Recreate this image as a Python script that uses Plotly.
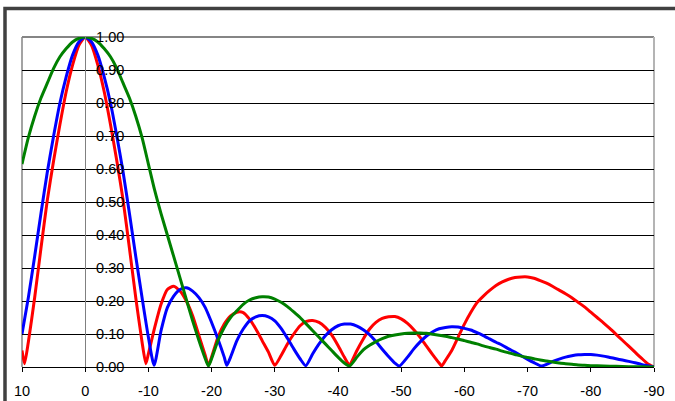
import plotly.graph_objects as go

# Normalised array-factor patterns versus angle (degrees)
angle_red = [10, 9.6, 9, 8, 7, 6, 5, 4, 3, 2, 1, 0, -1, -2, -3, -4, -5, -6, -7, -8, -9, -9.6,
             -10, -11, -12, -13, -14, -15, -16, -17, -18, -19, -19.5, -20, -21, -22, -23, -24,
             -25, -26, -27, -28, -29, -30, -31, -32, -33, -34, -35, -36, -37, -38, -39, -40,
             -41, -41.8, -42, -43, -44, -45, -46, -47, -48, -49, -50, -51, -52, -53, -54, -55,
             -56, -56.4, -57, -58, -59, -60, -61, -62, -63, -64, -65, -66, -67, -68, -69, -70,
             -71, -72, -73, -74, -75, -76, -77, -78, -79, -80, -81, -82, -83, -84, -85, -86,
             -87, -88, -89, -90]
af_red = [0.05, 0.01, 0.075, 0.21, 0.36, 0.505, 0.625, 0.735, 0.835, 0.915, 0.975, 1.00, 0.975,
          0.915, 0.835, 0.735, 0.625, 0.505, 0.36, 0.21, 0.075, 0.01,
          0.04, 0.12, 0.19, 0.235, 0.245, 0.23, 0.20, 0.155, 0.095, 0.035, 0.005, 0.03, 0.09,
          0.13, 0.155, 0.166, 0.165, 0.145, 0.115, 0.08, 0.045, 0.005, 0.035, 0.07, 0.10,
          0.125, 0.138, 0.141, 0.135, 0.12, 0.097, 0.065, 0.03, 0.005, 0.01, 0.05, 0.085,
          0.115, 0.135, 0.147, 0.152, 0.153, 0.146, 0.132, 0.113, 0.09, 0.063, 0.037, 0.012,
          0.003, 0.02, 0.05, 0.09, 0.13, 0.165, 0.195, 0.215, 0.232, 0.247, 0.258, 0.266,
          0.271, 0.273, 0.273, 0.269, 0.262, 0.254, 0.244, 0.233, 0.222, 0.21, 0.196, 0.182,
          0.166, 0.15, 0.134, 0.117, 0.099, 0.081, 0.063, 0.045, 0.027, 0.01, 0.0]

angle_blue = [10, 9, 8, 7, 6, 5, 4, 3, 2, 1, 0, -1, -2, -3, -4, -5, -6, -7, -8, -9, -10, -10.9,
              -12, -13, -14, -15, -16, -17, -18, -19, -20, -21, -22, -22.4, -23, -24, -25, -26,
              -27, -28, -29, -30, -31, -32, -33, -34, -34.9, -36, -37, -38, -39, -40, -41, -42,
              -43, -44, -45, -46, -47, -48, -49, -49.7, -51, -52, -53, -54, -55, -56, -57, -58,
              -59, -60, -61, -62, -63, -64, -65, -66, -67, -68, -69, -70, -71, -72.2, -73, -74,
              -75, -76, -77, -78, -79, -80, -81, -82, -83, -84, -85, -86, -87, -88, -89, -90]
af_blue = [0.10, 0.21, 0.335, 0.465, 0.59, 0.70, 0.80, 0.88, 0.945, 0.985, 1.00, 0.985, 0.945,
           0.88, 0.80, 0.70, 0.59, 0.465, 0.335, 0.21, 0.09, 0.005,
           0.11, 0.18, 0.215, 0.235, 0.24, 0.23, 0.21, 0.18, 0.135, 0.085, 0.03, 0.005, 0.03,
           0.08, 0.115, 0.14, 0.152, 0.156, 0.152, 0.14, 0.117, 0.087, 0.055, 0.025, 0.004,
           0.04, 0.07, 0.095, 0.113, 0.125, 0.13, 0.13, 0.124, 0.113, 0.098, 0.077, 0.054,
           0.032, 0.012, 0.003, 0.03, 0.055, 0.076, 0.094, 0.107, 0.116, 0.12, 0.122, 0.121,
           0.117, 0.112, 0.104, 0.095, 0.085, 0.075, 0.066, 0.055, 0.045, 0.034, 0.023, 0.013,
           0.003, 0.008, 0.017, 0.024, 0.03, 0.034, 0.037, 0.038, 0.038, 0.036, 0.033, 0.029,
           0.025, 0.021, 0.017, 0.013, 0.008, 0.004, 0.0]

angle_green = [10, 9, 8, 7, 6, 5, 4, 3, 2, 1, 0, -1, -2, -3, -4, -5, -6, -7, -8, -9, -10, -11,
               -12, -13, -14, -15, -16, -17, -18, -19, -19.5, -20, -21, -22, -23, -24, -25, -26,
               -27, -28, -29, -30, -31, -32, -33, -34, -35, -36, -37, -38, -39, -40, -41, -41.8,
               -43, -44, -45, -46, -47, -48, -49, -50, -51, -52, -53, -54, -55, -56, -57, -58,
               -59, -60, -61, -62, -63, -64, -65, -66, -67, -68, -69, -70, -71, -72, -73, -74,
               -75, -76, -77, -78, -79, -80, -82, -84, -86, -88, -90]
af_green = [0.615, 0.695, 0.76, 0.815, 0.86, 0.905, 0.94, 0.965, 0.985, 0.996, 1.00, 0.996,
            0.985, 0.965, 0.94, 0.905, 0.86, 0.815, 0.76, 0.695, 0.615, 0.535,
            0.465, 0.40, 0.335, 0.27, 0.205, 0.14, 0.08, 0.025, 0.003, 0.025, 0.08, 0.12, 0.15,
            0.17, 0.19, 0.203, 0.21, 0.213, 0.212, 0.206, 0.196, 0.183, 0.167, 0.15, 0.13,
            0.11, 0.09, 0.07, 0.05, 0.03, 0.012, 0.003, 0.03, 0.052, 0.066, 0.077, 0.086,
            0.093, 0.097, 0.10, 0.102, 0.103, 0.103, 0.102, 0.099, 0.096, 0.093, 0.089, 0.085,
            0.08, 0.075, 0.07, 0.064, 0.059, 0.054, 0.048, 0.043, 0.038, 0.033, 0.029, 0.025,
            0.021, 0.018, 0.015, 0.012, 0.01, 0.008, 0.006, 0.005, 0.004, 0.003, 0.002, 0.001,
            0.001, 0.0]

x_tick_vals = [10, 0, -10, -20, -30, -40, -50, -60, -70, -80, -90]
x_tick_text = ["10", "0", "-10", "-20", "-30", "-40", "-50", "-60", "-70", "-80", "-90"]
y_tick_vals = [0.0, 0.1, 0.2, 0.3, 0.4, 0.5, 0.6, 0.7, 0.8, 0.9, 1.0]
y_tick_text = ["0.00", "0.10", "0.20", "0.30", "0.40", "0.50", "0.60", "0.70", "0.80", "0.90", "1.00"]

series = [
    (angle_red, af_red, "#FF0000"),
    (angle_blue, af_blue, "#0000FF"),
    (angle_green, af_green, "#008000"),
]

fig = go.Figure()
for xs, ys, colour in series:
    fig.add_trace(go.Scatter(x=xs, y=ys, mode="lines",
                             line=dict(color=colour, width=3, shape="spline", smoothing=0.6),
                             hoverinfo="skip", showlegend=False))

font_family = "Arial, Liberation Sans, sans-serif"

fig.update_layout(
    template="none",
    width=675, height=401,
    margin=dict(l=22, r=21, t=37, b=34, autoexpand=False),
    paper_bgcolor="white", plot_bgcolor="white",
    showlegend=False,
    font=dict(family=font_family, size=14, color="black"),
    xaxis=dict(range=[10, -90], tickvals=x_tick_vals, ticktext=x_tick_text,
               showgrid=False, zeroline=False, showline=True, linecolor="black",
               linewidth=1, ticks="outside", ticklen=4, tickcolor="black", tickwidth=1,
               ticklabelstandoff=7,
               tickfont=dict(family=font_family, size=14.5, color="black"),
               automargin=False),
    yaxis=dict(range=[0, 1], tickvals=y_tick_vals, ticktext=y_tick_text,
               anchor="free", position=0.1, side="right",
               showline=True, linecolor="#808080", linewidth=1,
               showgrid=True, gridcolor="black", gridwidth=1, zeroline=False,
               ticks="", ticklabelstandoff=7,
               tickfont=dict(family=font_family, size=14.5, color="black"),
               automargin=False),
    shapes=[
        # outer chart frame
        dict(type="rect", xref="paper", yref="paper",
             x0=-0.0269, x1=1.2, y0=-0.3, y1=1.0864,
             line=dict(color="#404040", width=3.5), layer="below"),
        # plot-area border (top, left, right)
        dict(type="line", xref="paper", yref="paper", x0=0, x1=1, y0=1, y1=1,
             line=dict(color="#858585", width=2), layer="between"),
        dict(type="line", xref="paper", yref="paper", x0=0, x1=0, y0=0, y1=1,
             line=dict(color="#858585", width=1.5), layer="between"),
        dict(type="line", xref="paper", yref="paper", x0=1, x1=1, y0=0, y1=1,
             line=dict(color="#b4b4b4", width=2), layer="between"),
    ],
)

fig.write_html("out.html")
